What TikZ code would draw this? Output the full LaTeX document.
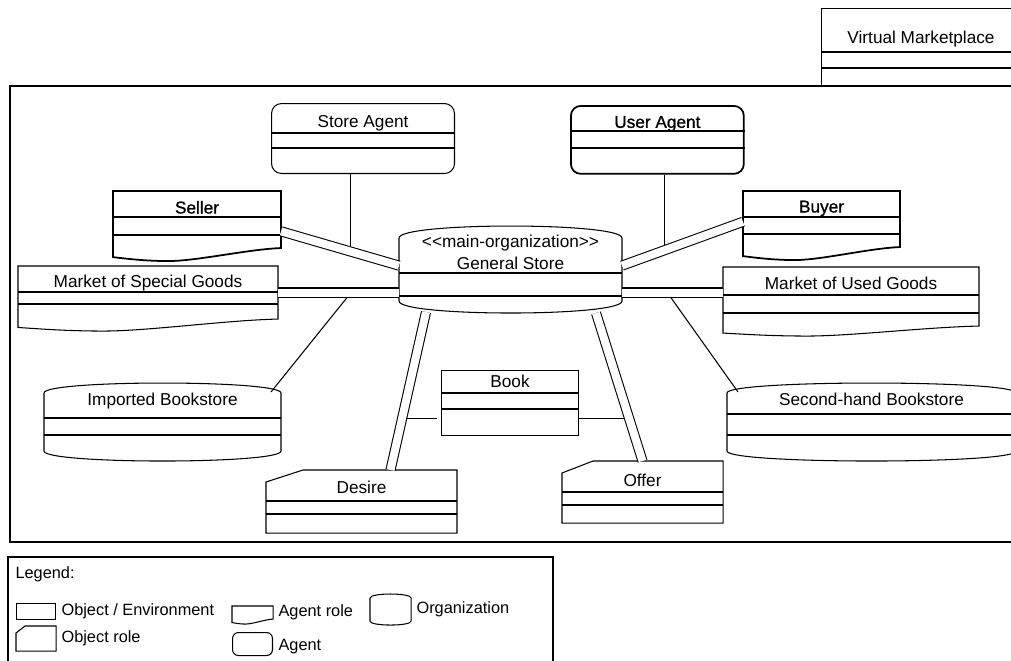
\documentclass[tikz,border=0pt]{standalone}
\usepackage{fontspec}
\setmainfont{Liberation Sans}
\newfontfamily\heavyfont{Liberation Sans}[FakeBold=1]
\usetikzlibrary{positioning, calc}

\newcommand{\fsize}{\fontsize{9.8pt}{12.5pt}\selectfont}

% two compartment lines: {node}{offset 1}{offset 2} (from the top)
\newcommand{\compart}[3]{%
  \draw ($(#1.north west)+(0,#2)$) -- ($(#1.north east)+(0,#2)$)
        ($(#1.north west)+(0,#3)$) -- ($(#1.north east)+(0,#3)$);}

% agent role outline, wavy bottom: [style]{node}{wave depth}
\newcommand{\agentrole}[3][]{%
  \draw[#1] (#2.south east) -- (#2.north east) -- (#2.north west)
    -- ($(#2.south west)+(0,0.7*#3)$)
    .. controls ($(#2.south west)!0.1!(#2.south east)+(0,0.85*#3)$)
            and ($(#2.south west)!0.2!(#2.south east)+(0,#3)$)
    .. ($(#2.south west)!0.33!(#2.south east)+(0,#3)$)
    .. controls ($(#2.south west)!0.5!(#2.south east)+(0,#3)$)
            and ($(#2.south west)!0.8!(#2.south east)+(0,0.1*#3)$)
    .. (#2.south east) -- cycle;}

% organization outline: {node}{bulge}
\newcommand{\orgshape}[2]{%
  \draw (#1.north west) .. controls +(0,-1.33*#2) and +(0,-1.33*#2) .. (#1.north east)
    -- (#1.south east) .. controls +(0,1.33*#2) and +(0,1.33*#2) .. (#1.south west) -- cycle;}

% object role outline, cut corner: {node}{cut x}{cut y}
\newcommand{\objrole}[3]{%
  \draw ($(#1.north west)+(#2,0)$) -- (#1.north east) -- (#1.south east)
    -- (#1.south west) -- ($(#1.north west)+(0,#3)$) -- cycle;}

\begin{document}
\begin{tikzpicture}[
  x=0.02cm, y=-0.02cm, line width=0.6pt,
  every node/.style={font=\fsize},
  cls/.style={inner sep=0pt, anchor=north west, align=center},
  objbox/.style={cls, draw},
  agentbox/.style={cls, draw, rounded corners=0.2cm},
  heavy/.style={line width=1pt, font=\heavyfont\fsize},
  dbl/.style={double, double distance=0.16cm},
  txt/.style={inner sep=0pt, font=\fontsize{9.3pt}{11pt}\selectfont}
]
\useasboundingbox (0,0) rectangle (1011,660);

% Environment
\draw (1030,86) -- (10,86) -- (10,542) -- (1030,542);
\node[objbox, minimum width=3.98cm, text height=0.70cm, text depth=0.86cm] (vmarket) at (821,8) {Virtual Marketplace};
\compart{vmarket}{44}{60}

% Agents
\node[agentbox, minimum width=3.66cm, text height=0.48cm, text depth=0.92cm] (storeag) at (271,103) {Store Agent};
\compart{storeag}{30}{45}
\node[agentbox, heavy, minimum width=3.46cm, text height=0.44cm, text depth=0.92cm] (userag) at (570,105) {User Agent};
\compart{userag}{26}{43}

% Agent roles
\node[cls, font=\heavyfont\fsize, minimum width=3.34cm, text height=0.44cm, text depth=0.68cm] (seller) at (113,191) {Seller};
\agentrole[line width=1pt]{seller}{13}
\compart{seller}{26}{44}
\node[cls, font=\heavyfont\fsize, minimum width=3.12cm, text height=0.42cm, text depth=0.68cm] (buyer) at (743,191) {Buyer};
\agentrole[line width=1pt]{buyer}{13}
\compart{buyer}{26}{43}
\node[cls, minimum width=5.18cm, text height=0.42cm, text depth=0.62cm] (mspecial) at (18,266) {Market of Special Goods};
\agentrole{mspecial}{12}
\compart{mspecial}{26}{38}
\node[cls, minimum width=5.10cm, text height=0.44cm, text depth=0.72cm] (mused) at (723,267) {Market of Used Goods};
\agentrole{mused}{10}
\compart{mused}{28}{46}

% Organizations
\node[cls, minimum width=4.44cm, text height=0.62cm, text depth=0.62cm] (gstore) at (399,238) {<{}<main-organization>{}>\\General Store};
\orgshape{gstore}{12}
\compart{gstore}{35}{58}
\node[cls, minimum width=4.72cm, text height=0.24cm, text depth=0.90cm] (impbook) at (44,393) {Imported Bookstore};
\orgshape{impbook}{10}
\compart{impbook}{25}{42}
\node[cls, minimum width=5.76cm, text height=0.24cm, text depth=0.90cm] (secbook) at (727,393) {Second-hand Bookstore};
\orgshape{secbook}{10}
\compart{secbook}{21}{42}

% Objects and object roles
\node[objbox, minimum width=2.74cm, text height=0.34cm, text depth=0.96cm] (book) at (441,370) {Book};
\compart{book}{23}{39}
\node[cls, minimum width=3.80cm, text height=0.46cm, text depth=0.78cm] (desire) at (266,470) {Desire};
\objrole{desire}{37}{12}
\compart{desire}{31}{44}
\node[cls, minimum width=3.20cm, text height=0.50cm, text depth=0.72cm] (offer) at (562,461) {Offer};
\objrole{offer}{31}{12}
\compart{offer}{31}{44}

% Links
\draw[dbl] (seller.-8) -- (gstore.178) coordinate[pos=0.585] (selmid);
\draw[dbl] (gstore.2) -- (buyer.182) coordinate[pos=0.352] (buymid);
\draw[dbl] (mspecial.east) -- (mspecial.east -| gstore.west) coordinate[pos=0.574] (spcmid);
\draw[dbl] (gstore.east |- mspecial.east) -- (mused.west |- mspecial.east) coordinate[pos=0.48] (usdmid);
\draw[dbl] ($(gstore.south west)+(27,11)$) -- ($(desire.north)+(29,0)$) coordinate[pos=0.673] (desmid);
\draw[dbl] ($(gstore.south east)+(-26,12)$) -- (offer.north) coordinate[pos=0.714] (offmid);

\draw (storeag.south -| selmid) -- ($(selmid)+(0,-5)$);
\draw (userag.south -| buymid) -- ($(buymid)+(0,-5)$);
\draw ($(spcmid)+(0,4.5)$) -- ($(impbook.north east)+(-10,-1)$);
\draw ($(usdmid)+(0,4.5)$) -- ($(secbook.north west)+(11,-1)$);
\draw[shorten <=0.09cm, shorten >=0.08cm] (desmid) -- (desmid -| book.west);
\draw[shorten <=0.09cm] (offmid) -- (offmid -| book.east);

% Legend
\draw (8,680) -- (8,557) -- (553,557) -- (553,680);
\node[txt, anchor=base west] (lgdtitle) at (15,578) {Legend:};
\node[objbox, minimum width=0.78cm, minimum height=0.32cm] (lobj) at (16,603) {};
\node[txt, right=0.1cm of lobj] (tobj) {Object / Environment};
\node[cls, minimum width=0.78cm, minimum height=0.48cm] (lorole) at (16,626) {};
\objrole{lorole}{9}{7}
\node[txt, right=0.1cm of lorole] (torole) {Object role};
\node[cls, minimum width=0.8cm, minimum height=0.24cm] (larole) at (232,606) {};
\agentrole{larole}{5}
\node[txt, right=0.1cm of larole] (tarole) {Agent role};
\node[agentbox, rounded corners=0.12cm, minimum width=0.8cm, minimum height=0.46cm] (lagent) at (232,632) {};
\node[txt, right=0.1cm of lagent, yshift=-0.06cm] (tagent) {Agent};
\node[cls, minimum width=0.8cm, minimum height=0.44cm] (lorg) at (370,598) {};
\orgshape{lorg}{4}
\node[txt, right=0.1cm of lorg] (torg) {Organization};
\end{tikzpicture}
\end{document}
